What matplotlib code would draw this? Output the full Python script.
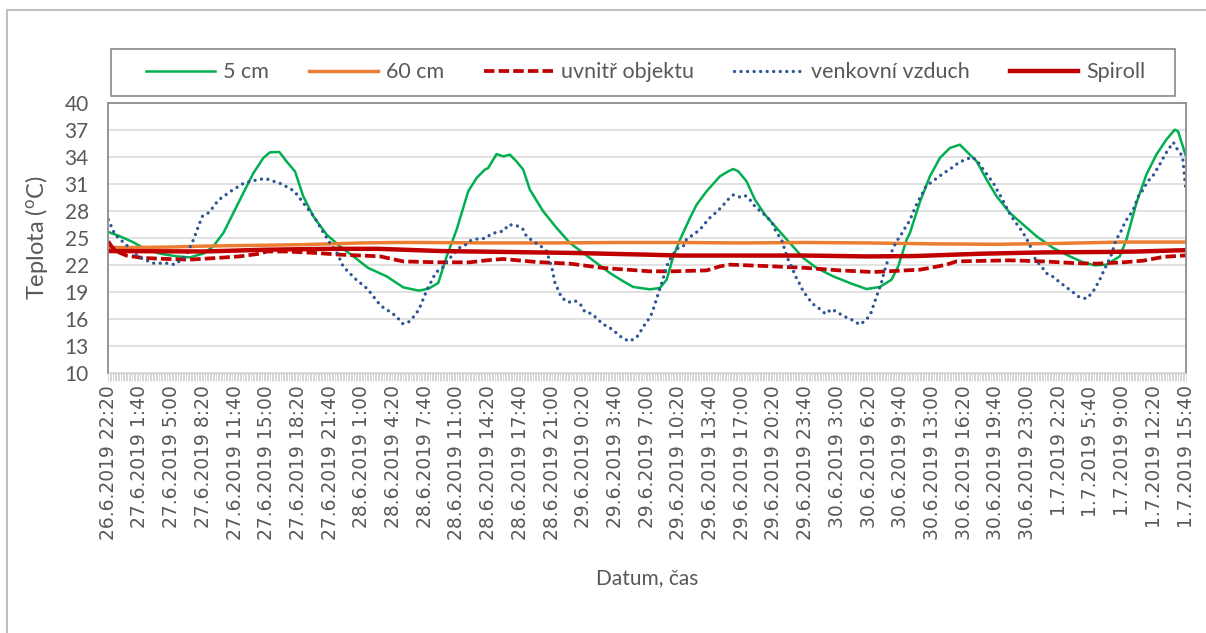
import matplotlib
matplotlib.use("Agg")
import matplotlib.pyplot as plt
import numpy as np
from matplotlib.lines import Line2D
from matplotlib.patches import Rectangle

plt.rcParams["font.family"] = ["Lato", "DejaVu Sans"]
plt.rcParams["mathtext.fontset"] = "custom"
plt.rcParams["mathtext.rm"] = "Lato"

# cas v minutach od 26.6.2019 22:20
t_5cm = [0, 74, 158, 242, 326, 431, 515, 599, 662, 726, 789, 852, 915, 978, 1020, 1079,
         1125, 1178, 1230, 1294, 1378, 1462, 1546, 1640, 1756, 1861, 1960, 2020, 2082,
         2135, 2198, 2271, 2324, 2376, 2397, 2450, 2492, 2534, 2576, 2618, 2660, 2744,
         2829, 2913, 2997, 3081, 3165, 3249, 3312, 3417, 3480, 3523, 3565, 3607, 3670,
         3712, 3775, 3859, 3912, 3943, 3975, 4027, 4080, 4143, 4217, 4301, 4385, 4469,
         4574, 4679, 4784, 4868, 4942, 4984, 5037, 5058, 5121, 5184, 5247, 5310, 5373,
         5426, 5479, 5542, 5605, 5689, 5773, 5857, 5962, 6067, 6151, 6225, 6298, 6382,
         6424, 6487, 6550, 6613, 6676, 6729, 6750, 6800]
v_5cm = [25.67, 25.19, 24.52, 23.7, 23.26, 22.96, 22.85, 23.26, 24.07, 25.56, 27.78, 30.0,
         32.2, 33.89, 34.52, 34.56, 33.5, 32.4, 29.63, 27.4, 25.37, 24.07, 22.96, 21.67,
         20.74, 19.52, 19.15, 19.37, 20.0, 22.96, 25.93, 30.19, 31.67, 32.6, 32.78, 34.33,
         34.07, 34.26, 33.5, 32.6, 30.37, 27.96, 26.11, 24.44, 23.33, 22.22, 21.11, 20.19,
         19.56, 19.3, 19.44, 20.37, 22.96, 24.81, 27.22, 28.7, 30.19, 31.85, 32.41, 32.67,
         32.41, 31.3, 29.26, 27.6, 26.11, 24.44, 22.78, 21.67, 20.74, 20.0, 19.33, 19.56,
         20.37, 21.85, 24.81, 25.56, 29.0, 31.85, 33.89, 35.0, 35.37, 34.44, 33.52, 31.48,
         29.63, 27.78, 26.48, 25.19, 23.89, 22.96, 22.3, 21.96, 22.04, 22.96, 24.81, 28.89,
         32.04, 34.26, 35.93, 37.04, 36.85, 34.07]

t_60cm = [0, 200, 400, 600, 800, 1000, 1200, 1400, 1600, 1800, 2000, 2400, 2800, 3200,
          3600, 4000, 4400, 4800, 5200, 5600, 6000, 6400, 6800]
v_60cm = [23.95, 23.95, 24.0, 24.1, 24.15, 24.2, 24.25, 24.35, 24.45, 24.5, 24.5, 24.45,
          24.45, 24.5, 24.5, 24.45, 24.5, 24.45, 24.35, 24.3, 24.4, 24.55, 24.55]

t_uvnitr = [0, 21, 53, 116, 221, 368, 515, 684, 831, 957, 1000, 1125, 1314, 1462, 1714,
            1861, 2071, 2282, 2387, 2492, 2702, 2913, 3123, 3417, 3565, 3775, 3859, 3922,
            4195, 4406, 4616, 4826, 5121, 5184, 5289, 5352, 5689, 5900, 6110, 6236, 6404,
            6530, 6656, 6800]
v_uvnitr = [24.63, 24.07, 23.5, 23.04, 22.78, 22.67, 22.6, 22.78, 22.96, 23.26, 23.5, 23.5,
            23.33, 23.15, 22.96, 22.4, 22.3, 22.3, 22.52, 22.67, 22.33, 22.15, 21.67, 21.3,
            21.3, 21.4, 21.85, 22.04, 21.85, 21.67, 21.4, 21.22, 21.48, 21.67, 22.04, 22.4,
            22.52, 22.4, 22.2, 22.15, 22.3, 22.48, 22.9, 23.07]

t_venku = [0, 42, 116, 189, 284, 368, 421, 494, 537, 574, 593, 637, 694, 778, 856, 947,
           993, 1094, 1174, 1235, 1300, 1353, 1409, 1441, 1483, 1556, 1636, 1699, 1739,
           1781, 1823, 1855, 1893, 1924, 1960, 1998, 2019, 2044, 2067, 2107, 2135, 2169,
           2219, 2250, 2288, 2330, 2377, 2419, 2461, 2496, 2524, 2573, 2614, 2639, 2681,
           2723, 2766, 2780, 2797, 2818, 2839, 2860, 2902, 2944, 2980, 3007, 3049, 3087,
           3119, 3161, 3201, 3243, 3287, 3333, 3365, 3396, 3417, 3438, 3470, 3498, 3533,
           3586, 3628, 3649, 3691, 3733, 3764, 3800, 3838, 3874, 3905, 3943, 3981, 4017,
           4048, 4080, 4115, 4153, 4189, 4210, 4248, 4275, 4294, 4315, 4336, 4359, 4385,
           4416, 4443, 4490, 4526, 4564, 4606, 4652, 4700, 4742, 4784, 4812, 4844, 4879,
           4894, 4921, 4949, 4970, 5005, 5027, 5054, 5080, 5104, 5138, 5159, 5201, 5243,
           5279, 5321, 5363, 5405, 5453, 5489, 5521, 5553, 5584, 5609, 5637, 5658, 5683,
           5716, 5752, 5790, 5815, 5853, 5889, 5916, 5963, 6004, 6042, 6085, 6126, 6173,
           6210, 6235, 6261, 6284, 6305, 6332, 6358, 6383, 6408, 6435, 6463, 6499, 6530,
           6558, 6587, 6615, 6642, 6667, 6695, 6720, 6747, 6778, 6789, 6793, 6800]
v_venku = [27.04, 25.37, 24.19, 22.9, 22.2, 22.2, 22.04, 23.1, 24.8, 26.55, 27.4, 27.85,
           29.2, 30.26, 31.1, 31.5, 31.6, 31.0, 30.2, 28.8, 27.33, 25.74, 24.15, 23.44,
           21.8, 20.5, 19.33, 17.9, 17.2, 16.78, 16.2, 15.48, 15.63, 16.2, 17.04, 18.7,
           19.56, 20.37, 21.2, 21.67, 22.33, 23.04, 23.96, 24.19, 24.74, 24.9, 24.96,
           25.48, 25.67, 25.78, 26.48, 26.41, 26.04, 25.19, 24.63, 24.19, 23.52, 22.7,
           21.85, 20.04, 19.19, 18.37, 17.85, 18.04, 17.6, 16.78, 16.6, 16.0, 15.44,
           15.07, 14.52, 13.89, 13.52, 13.93, 14.81, 15.7, 16.11, 17.04, 18.81, 20.37,
           22.3, 23.81, 24.07, 24.89, 25.37, 25.93, 26.6, 27.33, 27.89, 28.52, 29.19,
           29.78, 29.56, 29.74, 29.26, 28.52, 27.96, 27.41, 26.67, 25.81, 24.81, 23.33,
           22.41, 21.67, 20.74, 20.0, 19.07, 18.33, 17.7, 17.11, 16.56, 17.11, 16.67,
           16.22, 15.85, 15.37, 15.93, 16.67, 18.33, 20.07, 21.11, 22.67, 23.7, 24.52,
           25.44, 26.11, 26.85, 27.9, 28.9, 30.0, 30.74, 31.3, 31.85, 32.3, 32.78, 33.33,
           33.7, 34.0, 33.4, 32.6, 31.85, 31.11, 30.3, 29.44, 28.7, 27.85, 26.93, 26.11,
           25.07, 24.19, 22.48, 21.85, 21.11, 20.67, 20.07, 19.56, 19.0, 18.44, 18.26,
           18.96, 19.7, 20.56, 21.48, 22.22, 23.26, 24.81, 25.48, 26.48, 27.33, 27.96,
           29.63, 30.37, 31.3, 31.78, 32.6, 33.4, 34.26, 35.0, 35.63, 34.81, 34.07,
           32.22, 31.3, 30.37]

t_spiroll = [0, 600, 1000, 1400, 1700, 2100, 2500, 2900, 3400, 3600, 4000, 4400, 4800,
             5100, 5500, 5900, 6300, 6500, 6800]
v_spiroll = [23.55, 23.5, 23.7, 23.8, 23.8, 23.55, 23.45, 23.35, 23.15, 23.05, 23.05, 23.05,
             22.95, 23.0, 23.25, 23.4, 23.45, 23.5, 23.65]

tick_labels = [
    "26.6.2019 22:20", "27.6.2019 1:40", "27.6.2019 5:00", "27.6.2019 8:20",
    "27.6.2019 11:40", "27.6.2019 15:00", "27.6.2019 18:20", "27.6.2019 21:40",
    "28.6.2019 1:00", "28.6.2019 4:20", "28.6.2019 7:40", "28.6.2019 11:00",
    "28.6.2019 14:20", "28.6.2019 17:40", "28.6.2019 21:00", "29.6.2019 0:20",
    "29.6.2019 3:40", "29.6.2019 7:00", "29.6.2019 10:20", "29.6.2019 13:40",
    "29.6.2019 17:00", "29.6.2019 20:20", "29.6.2019 23:40", "30.6.2019 3:00",
    "30.6.2019 6:20", "30.6.2019 9:40", "30.6.2019 13:00", "30.6.2019 16:20",
    "30.6.2019 19:40", "30.6.2019 23:00", "1.7.2019 2:20", "1.7.2019 5:40",
    "1.7.2019 9:00", "1.7.2019 12:20", "1.7.2019 15:40",
]

W, H = 1206, 633
fig = plt.figure(figsize=(W / 100, H / 100), dpi=100)
ax = fig.add_axes([108.3 / W, 1 - 373 / H, 1077.7 / W, 270 / H])

ax.plot(t_5cm, v_5cm, color="#00B050", lw=1.8, label="5 cm")
ax.plot(t_60cm, v_60cm, color="#ED7D31", lw=2.5, label="60 cm")
ax.plot(t_uvnitr, v_uvnitr, color="#C00000", lw=2.7, ls=(0, (2.8, 1.1)),
        label="uvnitř objektu")
ax.plot(t_venku, v_venku, color="#2F5597", lw=2.4, ls=(0, (0.01, 1.95)),
        dash_capstyle="round", label="venkovní vzduch")
ax.plot(t_spiroll, v_spiroll, color="#C00000", lw=3.2, label="Spiroll")

ax.set_xlim(0, 6800)
ax.set_ylim(10, 40)
ax.set_yticks(np.arange(10, 41, 3))
ax.grid(axis="y", color="#D9D9D9", lw=1.1)
ax.set_axisbelow(True)

ax.set_xticks(np.arange(len(tick_labels)) * 200)
ax.set_xticklabels(tick_labels, rotation=90, fontfamily="DejaVu Sans",
                   fontsize=13.5, color="#595959")
ax.set_xticks(np.arange(0, 6801, 10), minor=True)
ax.tick_params(axis="x", which="major", length=6, color="#D0D0D0", width=0.6, pad=3)
ax.tick_params(axis="x", which="minor", length=6, color="#D0D0D0", width=0.6)
ax.tick_params(axis="y", length=0, pad=14, labelsize=15, labelcolor="#595959")

for side in ["top", "left", "right"]:
    ax.spines[side].set_color("#8C8C8C")
    ax.spines[side].set_linewidth(1.3)
ax.spines["bottom"].set_color("#D0D0D0")

ax.legend(loc="center", bbox_to_anchor=(646 / W, 1 - 72.5 / H),
          bbox_transform=fig.transFigure, ncol=5, frameon=False, fontsize=15.5,
          handlelength=3.2, handletextpad=0.38, columnspacing=1.85, borderpad=0,
          labelcolor="#595959")
fig.patches.append(Rectangle((111 / W, 1 - 96 / H), 1064 / W, 47 / H,
                             transform=fig.transFigure, fill=False,
                             edgecolor="#7F7F7F", lw=1.1))

# ramecek grafu
fig.add_artist(Line2D([7 / W, 7 / W], [0, 1 - 10 / H], transform=fig.transFigure,
                      color="#BFBFBF", lw=1.5))
fig.add_artist(Line2D([7 / W, 1], [1 - 10 / H, 1 - 10 / H], transform=fig.transFigure,
                      color="#BFBFBF", lw=1.5))

fig.text(44 / W, 1 - 238 / H, r"Teplota ($\mathregular{^o}$C)", rotation=90,
         rotation_mode="anchor", ha="center", va="baseline", fontsize=17,
         color="#595959")
fig.text(647 / W, 1 - 584.5 / H, "Datum, čas", ha="center", va="baseline",
         fontsize=15, color="#595959")

fig.savefig("out.png", dpi=100)
